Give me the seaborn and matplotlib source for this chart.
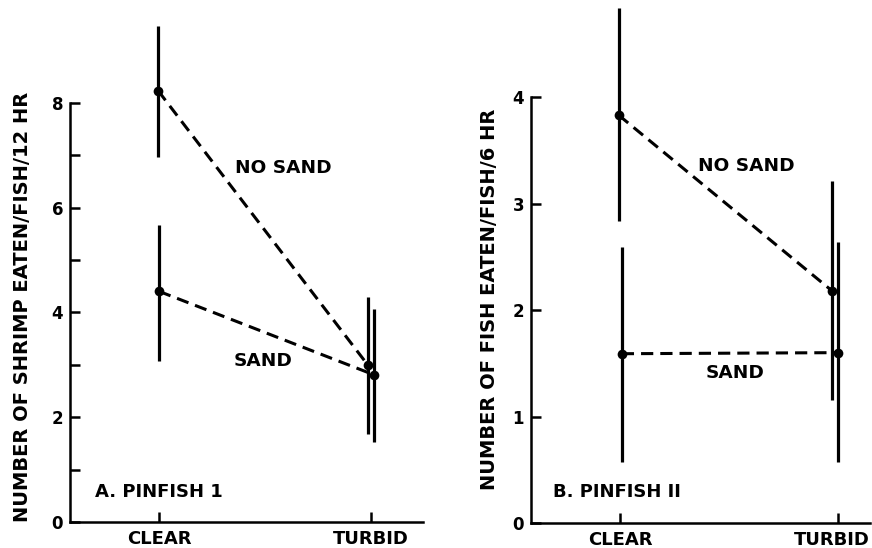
import seaborn as sns
import matplotlib.pyplot as plt
import matplotlib.transforms as mtransforms
import pandas as pd

# values
water = ["CLEAR", "TURBID"]

# A. Pinfish 1 - shrimp eaten / fish / 12 hr
a_nosand_mean = [8.23, 2.99]
a_nosand_lo = [6.97, 1.67]
a_nosand_hi = [9.47, 4.30]
a_sand_mean = [4.40, 2.81]
a_sand_lo = [3.07, 1.53]
a_sand_hi = [5.67, 4.07]

# B. Pinfish II - fish eaten / fish / 6 hr
b_nosand_mean = [3.83, 2.18]
b_nosand_lo = [2.84, 1.16]
b_nosand_hi = [4.84, 3.21]
b_sand_mean = [1.59, 1.60]
b_sand_lo = [0.57, 0.57]
b_sand_hi = [2.59, 2.64]

# small horizontal nudges so overlapping bars stay visible
a_shift = {"NO SAND": [-0.005, -0.015], "SAND": [0.0, 0.012]}
b_shift = {"NO SAND": [-0.006, -0.028], "SAND": [0.008, 0.0]}

sns.set_style("ticks", rc={"axes.edgecolor": "black", "xtick.color": "black",
                           "ytick.color": "black", "text.color": "black",
                           "axes.labelcolor": "black"})
plt.rcParams["font.family"] = ["DejaVu Sans"]
plt.rcParams["font.weight"] = "bold"


def make_df(nm, nl, nh, sm, sl, sh, shift):
    rows = []
    for i, w in enumerate(water):
        rows.append(dict(sand="NO SAND", pos=i + shift["NO SAND"][i], mean=nm[i], lo=nl[i], hi=nh[i]))
        rows.append(dict(sand="SAND", pos=i + shift["SAND"][i], mean=sm[i], lo=sl[i], hi=sh[i]))
    return pd.DataFrame(rows)


df_a = make_df(a_nosand_mean, a_nosand_lo, a_nosand_hi,
               a_sand_mean, a_sand_lo, a_sand_hi, a_shift)
df_b = make_df(b_nosand_mean, b_nosand_lo, b_nosand_hi,
               b_sand_mean, b_sand_lo, b_sand_hi, b_shift)

fig = plt.figure(figsize=(8.72, 5.48), dpi=100)
ax_a = fig.add_axes([0.0803, 0.0474, 0.405, 0.947])
ax_b = fig.add_axes([0.609, 0.0456, 0.389, 0.954])


def draw(ax, df):
    ax.vlines(df["pos"], df["lo"], df["hi"], color="black", lw=2.3)
    for s in ["NO SAND", "SAND"]:
        sub = df[df["sand"] == s]
        sns.lineplot(data=sub, x="pos", y="mean", ax=ax, color="black",
                     lw=2.2, linestyle=(0, (4, 2.3)), marker="o",
                     markersize=7, markeredgewidth=0, sort=False)
    ax.set_xticks([0, 1])
    ax.set_xticklabels(water, fontsize=13, fontweight="bold")
    ax.set_xlabel("")
    sns.despine(ax=ax)
    for sp in ["left", "bottom"]:
        ax.spines[sp].set_linewidth(1.8)
    ax.tick_params(axis="both", direction="in", width=1.8, length=7)
    ax.tick_params(axis="x", pad=6)
    ax.tick_params(axis="y", pad=5, labelsize=12)


draw(ax_a, df_a)
ax_a.set_xlim(-0.42, 1.245)
ax_a.set_ylim(0, 9.9)
ax_a.set_yticks(range(9))
ax_a.set_yticklabels(["0", "", "2", "", "4", "", "6", "", "8"], fontweight="bold")
ax_a.spines["left"].set_bounds(0, 8)
ax_a.set_ylabel("NUMBER OF SHRIMP EATEN/FISH/12 HR", fontsize=14, fontweight="bold")
ax_a.yaxis.set_label_coords(-0.108, 0.414)
ax_a.text(0.358, 6.76, "NO SAND", fontsize=13.3, fontweight="bold", va="center")
ax_a.text(0.35, 3.07, "SAND", fontsize=13.3, fontweight="bold", va="center")
ax_a.text(-0.30, 0.57, "A. PINFISH 1", fontsize=13, fontweight="bold", va="center")

draw(ax_b, df_b)
ax_b.set_xlim(-0.408, 1.147)
ax_b.set_ylim(0, 4.91)
ax_b.set_yticks(range(5))
ax_b.set_yticklabels([str(v) for v in range(5)], fontweight="bold")
ax_b.spines["left"].set_bounds(0, 4)
ax_b.set_ylabel("NUMBER OF FISH EATEN/FISH/6 HR", fontsize=14, fontweight="bold")
ax_b.yaxis.set_label_coords(-0.094, 0.428)
ax_b.text(0.358, 3.35, "NO SAND", fontsize=13.3, fontweight="bold", va="center")
ax_b.text(0.394, 1.41, "SAND", fontsize=13.3, fontweight="bold", va="center")
ax_b.text(-0.307, 0.29, "B. PINFISH II", fontsize=13, fontweight="bold", va="center")

# the reference TURBID label on panel B sits a little left of its tick
lab = ax_b.get_xticklabels()[1]
lab.set_transform(lab.get_transform() +
                  mtransforms.ScaledTranslation(-0.06, 0, fig.dpi_scale_trans))

fig.savefig("out.png", dpi=100)
